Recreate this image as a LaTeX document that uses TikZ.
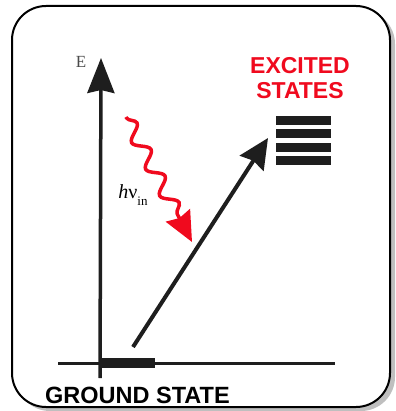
\documentclass[tikz,border=0pt]{standalone}
\usepackage{fontspec}
\setmainfont{Liberation Serif}
\newfontfamily\arial{Liberation Sans}
\usetikzlibrary{arrows.meta,decorations.pathmorphing}
\definecolor{exred}{RGB}{240,10,30}
\definecolor{ink}{RGB}{30,30,30}
\tikzset{
  frame/.style={line width=2pt, draw=black, fill=white, rounded corners=34pt},
  shade box/.style={fill=gray!50, rounded corners=34pt},
  axisline/.style={ink, line width=3.5pt, -{Stealth[length=35pt,width=27pt,inset=3pt]}},
  groundline/.style={ink, line width=3pt},
  transition/.style={ink, line width=4pt, -{Stealth[length=30pt,width=28pt,inset=3pt]}},
  wave/.style={exred, line width=3.5pt, decorate,
    decoration={snake, amplitude=7pt, segment length=30pt, pre length=1pt, post length=30pt},
    -{Stealth[length=30pt,width=27pt,inset=3pt]}},
  level/.style={fill=ink},
  bigred/.style={font=\arial\bfseries\fontsize{23}{23}\selectfont, text=exred, inner sep=0pt},
  bigblack/.style={font=\arial\bfseries\fontsize{23.5}{23.5}\selectfont, text=black, inner sep=0pt},
}
\begin{document}
\begin{tikzpicture}[x=1pt,y=-1pt]
\useasboundingbox (0,0) rectangle (395,411);
\fill[shade box] (16,10) rectangle (395,411);
\draw[frame] (12,6) rectangle (390,407);
% axis
\coordinate (axisbot) at (100,378);
\coordinate (axistop) at (101,58);
\draw[axisline] (axisbot) -- (axistop);
\node[inner sep=0pt, text=ink!80, font=\fontsize{17}{17}\selectfont] (E) at (81,62) {E};
% ground line
\coordinate (gl) at (58,363);
\coordinate (gr) at (335,363);
\draw[groundline] (gl) -- (gr);
\fill[ink] (100,358) rectangle (155,368);
\node[bigblack, anchor=west] (ground) at (45,395) {GROUND STATE};
% excited states
\node[bigred] (ex1) at (300,66) {EXCITED};
\node[bigred] (ex2) at (300,91) {STATES};
\fill[level] (276,116) rectangle (331,125);
\fill[level] (276,129.5) rectangle (331,138.5);
\fill[level] (276,143) rectangle (331,152);
\fill[level] (276,156.5) rectangle (331,165.5);
% transition arrow
\coordinate (ts) at (133,347);
\coordinate (tt) at (268,138);
\draw[transition] (ts) -- (tt);
% photon
\coordinate (ws) at (126,117);
\coordinate (wt) at (192,242);
\draw[wave] (ws) -- (wt);
\node[inner sep=0pt] (hv) at (133,195) {\fontsize{20}{20}\selectfont\textit{h}ν\raisebox{-0.35em}{\fontsize{13}{13}\selectfont in}};
\end{tikzpicture}
\end{document}
